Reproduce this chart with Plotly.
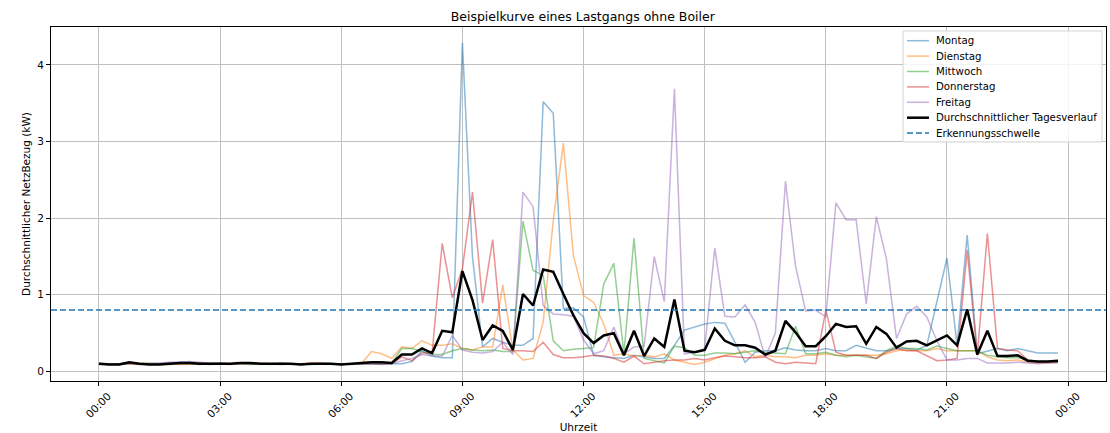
import pandas as pd
import plotly.graph_objects as go

# 15-Minuten-Raster eines Tages
zeiten = pd.date_range("2024-01-01 00:00", periods=96, freq="15min")

montag = [
    0.10, 0.09, 0.10, 0.11, 0.10, 0.09, 0.10, 0.11, 0.12, 0.12, 0.11, 0.10,
    0.10, 0.10, 0.11, 0.10, 0.10, 0.09, 0.10, 0.10, 0.09, 0.10, 0.10, 0.09,
    0.10, 0.09, 0.10, 0.10, 0.09, 0.10, 0.10, 0.13, 0.27, 0.20, 0.18, 0.18,
    4.29, 1.49, 0.32, 0.43, 0.38, 0.34, 0.34, 0.43, 3.52, 3.37, 0.82, 0.83,
    0.71, 0.21, 0.19, 0.18, 0.17, 0.21, 0.19, 0.17, 0.17, 0.34, 0.54, 0.58,
    0.62, 0.64, 0.63, 0.38, 0.12, 0.25, 0.27, 0.27, 0.31, 0.28, 0.27, 0.27,
    0.30, 0.27, 0.27, 0.34, 0.31, 0.27, 0.27, 0.30, 0.30, 0.28, 0.34, 0.92,
    1.48, 0.34, 1.78, 0.23, 0.27, 0.30, 0.27, 0.30, 0.27, 0.24, 0.24, 0.24,
]
dienstag = [
    0.09, 0.10, 0.09, 0.10, 0.11, 0.10, 0.09, 0.10, 0.09, 0.10, 0.11, 0.10,
    0.10, 0.09, 0.10, 0.10, 0.11, 0.10, 0.10, 0.09, 0.10, 0.11, 0.10, 0.10,
    0.10, 0.10, 0.10, 0.26, 0.23, 0.17, 0.32, 0.30, 0.40, 0.34, 0.34, 0.36,
    0.30, 0.28, 0.32, 0.32, 1.13, 0.28, 0.15, 0.17, 0.64, 1.97, 2.98, 1.51,
    0.99, 0.90, 0.62, 0.21, 0.23, 0.20, 0.21, 0.19, 0.23, 0.15, 0.12, 0.09,
    0.12, 0.17, 0.21, 0.23, 0.27, 0.19, 0.21, 0.19, 0.19, 0.18, 0.21, 0.21,
    0.23, 0.21, 0.21, 0.21, 0.21, 0.21, 0.23, 0.27, 0.28, 0.27, 0.27, 0.30,
    0.27, 0.27, 0.27, 0.27, 0.19, 0.15, 0.14, 0.15, 0.12, 0.11, 0.11, 0.12,
]
mittwoch = [
    0.10, 0.10, 0.09, 0.10, 0.10, 0.11, 0.10, 0.09, 0.10, 0.10, 0.09, 0.10,
    0.11, 0.10, 0.10, 0.09, 0.10, 0.10, 0.11, 0.10, 0.10, 0.09, 0.10, 0.10,
    0.09, 0.10, 0.10, 0.10, 0.10, 0.11, 0.30, 0.30, 0.26, 0.22, 0.22, 0.27,
    0.30, 0.28, 0.27, 0.28, 0.26, 0.26, 1.96, 1.32, 1.25, 0.40, 0.27, 0.29,
    0.30, 0.31, 1.14, 1.41, 0.23, 1.74, 0.17, 0.14, 0.11, 0.33, 0.31, 0.21,
    0.21, 0.24, 0.24, 0.23, 0.25, 0.27, 0.25, 0.24, 0.23, 0.59, 0.23, 0.23,
    0.25, 0.21, 0.19, 0.21, 0.19, 0.17, 0.27, 0.33, 0.30, 0.30, 0.28, 0.33,
    0.30, 0.27, 0.27, 0.27, 0.21, 0.19, 0.18, 0.18, 0.15, 0.13, 0.13, 0.12,
]
donnerstag = [
    0.10, 0.09, 0.10, 0.10, 0.09, 0.10, 0.10, 0.11, 0.10, 0.10, 0.10, 0.09,
    0.10, 0.10, 0.10, 0.11, 0.10, 0.10, 0.09, 0.10, 0.10, 0.10, 0.11, 0.10,
    0.10, 0.10, 0.10, 0.10, 0.10, 0.10, 0.19, 0.14, 0.24, 0.24, 1.67, 0.96,
    1.34, 2.34, 0.89, 1.72, 0.30, 0.27, 0.27, 0.26, 0.38, 0.22, 0.18, 0.18,
    0.19, 0.21, 0.20, 0.17, 0.12, 0.20, 0.10, 0.12, 0.14, 0.15, 0.15, 0.17,
    0.15, 0.18, 0.20, 0.19, 0.18, 0.18, 0.19, 0.12, 0.10, 0.12, 0.11, 0.10,
    0.80, 0.25, 0.21, 0.21, 0.21, 0.17, 0.25, 0.30, 0.27, 0.27, 0.21, 0.14,
    0.15, 0.17, 1.58, 0.21, 1.80, 0.30, 0.28, 0.27, 0.15, 0.12, 0.12, 0.13,
]
freitag = [
    0.11, 0.10, 0.10, 0.11, 0.10, 0.10, 0.11, 0.12, 0.12, 0.13, 0.12, 0.11,
    0.11, 0.10, 0.11, 0.10, 0.10, 0.10, 0.10, 0.10, 0.09, 0.10, 0.10, 0.10,
    0.09, 0.10, 0.10, 0.10, 0.10, 0.10, 0.14, 0.17, 0.22, 0.20, 0.20, 0.47,
    0.28, 0.25, 0.24, 0.26, 0.38, 0.22, 2.34, 2.15, 0.86, 0.75, 0.74, 0.72,
    0.41, 0.23, 0.27, 0.58, 0.23, 0.32, 0.33, 1.50, 0.91, 3.69, 0.23, 0.25,
    0.30, 1.61, 0.72, 0.71, 0.87, 0.64, 0.18, 0.50, 2.48, 1.37, 0.79, 0.80,
    0.71, 2.20, 1.98, 1.98, 0.88, 2.02, 1.47, 0.43, 0.75, 0.85, 0.71, 0.40,
    0.15, 0.15, 0.17, 0.17, 0.11, 0.11, 0.11, 0.12, 0.11, 0.10, 0.11, 0.11,
]
durchschnitt = [
    0.10, 0.09, 0.09, 0.12, 0.10, 0.09, 0.09, 0.10, 0.11, 0.11, 0.10, 0.10,
    0.10, 0.10, 0.11, 0.11, 0.10, 0.10, 0.10, 0.10, 0.09, 0.10, 0.10, 0.10,
    0.09, 0.10, 0.11, 0.12, 0.12, 0.11, 0.22, 0.22, 0.30, 0.24, 0.53, 0.51,
    1.31, 0.93, 0.41, 0.60, 0.53, 0.28, 1.01, 0.86, 1.33, 1.30, 1.01, 0.73,
    0.50, 0.37, 0.47, 0.50, 0.21, 0.53, 0.20, 0.43, 0.32, 0.94, 0.27, 0.25,
    0.28, 0.56, 0.40, 0.34, 0.34, 0.31, 0.22, 0.27, 0.66, 0.51, 0.33, 0.33,
    0.46, 0.62, 0.58, 0.59, 0.36, 0.58, 0.49, 0.31, 0.39, 0.40, 0.34, 0.41,
    0.47, 0.34, 0.81, 0.22, 0.53, 0.20, 0.20, 0.21, 0.14, 0.13, 0.13, 0.14,
]
schwelle = 0.8

tage = ["Montag", "Dienstag", "Mittwoch", "Donnerstag", "Freitag"]
werte = [montag, dienstag, mittwoch, donnerstag, freitag]
farben = ["#1f77b4", "#ff7f0e", "#2ca02c", "#d62728", "#9467bd"]

FONT = "DejaVu Sans, Liberation Sans, sans-serif"
W, H = 1110, 433
M = dict(l=51, r=4, t=27, b=52)

fig = go.Figure()

# einzelne Tage halbtransparent
for name, y, farbe in zip(tage, werte, farben):
    fig.add_trace(go.Scatter(
        x=zeiten, y=y, mode="lines", name=name,
        line=dict(color=farbe, width=1.5), opacity=0.5,
    ))

# Mittelwert
fig.add_trace(go.Scatter(
    x=zeiten, y=durchschnitt, mode="lines",
    name="Durchschnittlicher Tagesverlauf",
    line=dict(color="black", width=2.5),
))

# Schwelle über die ganze Achsenbreite
SCHWELLE_LINE = dict(color="#1f77b4", width=1.5, dash="6px,3px")
fig.add_hline(y=schwelle, line=SCHWELLE_LINE)


# Legende von Hand (matplotlib-artig, engere Zeilen als Plotly erlaubt)
def px2paper(px, py):
    pw = W - M["l"] - M["r"]
    ph = H - M["t"] - M["b"]
    return (px - M["l"]) / pw, 1 - (py - M["t"]) / ph


eintraege = [(n, dict(color=f, width=1.5), 0.5) for n, f in zip(tage, farben)]
eintraege.append(("Durchschnittlicher Tagesverlauf", dict(color="black", width=2.5), 1))
eintraege.append(("Erkennungsschwelle", SCHWELLE_LINE, 1))

x0, y0 = px2paper(903, 31)
x1, y1 = px2paper(1102, 142)
fig.add_shape(type="rect", xref="paper", yref="paper", x0=x0, y0=y0, x1=x1, y1=y1,
              fillcolor="rgba(255,255,255,0.8)", line=dict(color="#d5d5d5", width=1),
              layer="above")
for k, (name, linie, alpha) in enumerate(eintraege):
    py = 40.7 + k * 15.4
    lx0, ly = px2paper(907, py)
    lx1, _ = px2paper(929, py)
    tx, _ = px2paper(934, py)
    fig.add_shape(type="line", xref="paper", yref="paper", x0=lx0, x1=lx1, y0=ly, y1=ly,
                  line=linie, opacity=alpha, layer="above")
    fig.add_annotation(xref="paper", yref="paper", x=tx, y=ly, text=name,
                       showarrow=False, xanchor="left", yanchor="middle",
                       font=dict(size=10.2, color="black"))

achse = dict(
    showline=True, mirror=True, linecolor="black", linewidth=1,
    ticks="outside", ticklen=4, tickcolor="black",
    showgrid=True, gridcolor="#c0c0c0", gridwidth=1,
    zeroline=False, tickfont=dict(size=10.5, color="black"),
    automargin=False,
)

fig.update_layout(
    width=W, height=H,
    paper_bgcolor="white", plot_bgcolor="white",
    font=dict(family=FONT, size=10.5, color="black"),
    title=dict(text="Beispielkurve eines Lastgangs ohne Boiler",
               x=0.525, xanchor="center", y=0.962, yanchor="middle",
               font=dict(size=12.5)),
    margin=M,
    showlegend=False,
    xaxis=dict(
        achse,
        type="date",
        range=["2023-12-31 22:48:45", "2024-01-02 00:56:15"],
        tick0="2024-01-01 00:00", dtick=3 * 3600 * 1000,
        tickformat="%H:%M", tickangle=-45, ticklabelshift=9,
        title=dict(text="Uhrzeit", font=dict(size=10.5), standoff=6),
    ),
    yaxis=dict(
        achse,
        range=[-0.125, 4.495], tick0=0, dtick=1,
        title=dict(text="Durchschnittlicher NetzBezug (kW)",
                   font=dict(size=10.5), standoff=4),
    ),
)

fig.write_html("out.html", config={"displayModeBar": False},
               post_script="document.body.style.margin='0';")
